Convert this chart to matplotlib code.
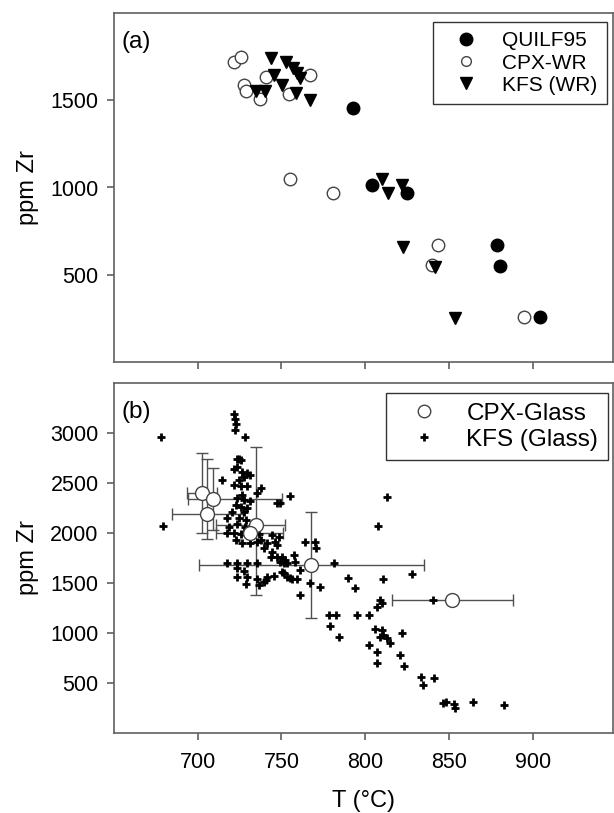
import matplotlib
matplotlib.use("Agg")
import matplotlib.pyplot as plt
from matplotlib.lines import Line2D

plt.rcParams['font.family'] = ['Liberation Sans', 'DejaVu Sans']

# ---------------- Panel (a) data ----------------
quilf_T = [793.0, 804.0, 824.8, 878.8, 880.8, 904.2]
quilf_Zr = [1454, 1014, 967, 670, 552, 260]

cpxwr_T = [721.6, 726.0, 727.6, 728.6, 736.9, 740.7, 754.8, 767.3, 754.9, 780.8, 843.6, 839.7, 894.6]
cpxwr_Zr = [1721, 1749, 1587, 1555, 1506, 1635, 1536, 1645, 1049, 970, 670, 556, 260]

kfswr_T = [743.5, 752.8, 757.0, 759.3, 760.9, 745.4, 750.4, 735.1, 739.9, 758.5, 766.8,
           809.9, 813.9, 821.8, 822.8, 841.7, 853.6]
kfswr_Zr = [1740, 1721, 1683, 1658, 1626, 1645, 1587, 1555, 1555, 1540, 1501,
            1047, 967, 1014, 661, 543, 250]

# ---------------- Panel (b) data ----------------
cpxgl_T = [702.8, 709.1, 705.8, 734.9, 731.0, 767.9, 852.1]
cpxgl_Zr = [2397, 2337, 2187, 2080, 2000, 1680, 1330]
cpxgl_Terr_lo = [9, 15, 21, 24, 20, 67, 36]
cpxgl_Terr_hi = [9, 41, 21, 17, 20, 67, 36]
cpxgl_Zrerr_lo = [400, 310, 250, 700, 0, 528, 0]
cpxgl_Zrerr_hi = [406, 310, 550, 780, 0, 528, 0]

kfsgl_T = [678.0, 721.6, 722.0, 722.6, 722.2, 728.0, 679.4, 723.2, 724.6, 726.0,
           723.6, 721.9, 726.6, 729.2, 731.5, 727.6, 724.6, 714.7, 721.6, 725.6,
           729.6, 737.5, 735.5, 726.6, 723.6, 727.6, 731.5, 747.4, 749.4, 755.4,
           722.6, 725.6, 729.6, 720.6, 727.6, 717.7, 724.6, 728.6, 723.2, 728.0,
           718.7, 717.7, 721.6, 725.6, 727.6, 731.5, 736.5, 744.4, 722.6, 726.6,
           731.5, 735.5, 741.5, 747.4, 748.4, 739.5, 744.4, 747.4, 750.4, 752.4,
           753.4, 749.4, 757.3, 717.7, 723.6, 729.2, 735.5, 723.6, 727.6, 723.2,
           729.6, 735.5, 740.5, 745.4, 750.4, 753.4, 756.4, 759.3, 764.3, 770.2,
           770.8, 767.3, 773.2, 781.1, 789.5, 794.0, 728.6, 736.5, 761.3, 812.9,
           807.9, 746.4, 737.5, 743.5, 751.4, 758.3, 751.4, 755.4, 741.5, 739.5,
           761.3, 828.2, 840.3, 808.9, 809.9, 807.0, 778.2, 782.7, 795.0, 802.0,
           779.2, 784.1, 806.0, 809.9, 810.9, 812.9, 814.9, 808.9, 821.8, 802.0,
           807.0, 807.0, 820.8, 823.2, 833.1, 834.3, 841.3, 846.2, 848.2, 853.0,
           853.6, 864.1, 882.7, 810.9]
kfsgl_Zr = [2957, 3187, 3137, 3087, 3030, 2957, 2073, 2740, 2740, 2730,
            2663, 2637, 2613, 2597, 2580, 2563, 2530, 2530, 2480, 2470,
            2470, 2447, 2397, 2380, 2347, 2330, 2323, 2297, 2297, 2370,
            2280, 2263, 2253, 2213, 2213, 2147, 2147, 2130, 2090, 2063,
            2063, 1997, 1997, 1990, 2013, 1963, 1990, 1980, 1930, 1897,
            1903, 1913, 1897, 1880, 1963, 1847, 1813, 1763, 1763, 1730,
            1703, 1713, 1780, 1703, 1703, 1703, 1703, 1647, 1623, 1563,
            1557, 1537, 1530, 1570, 1613, 1557, 1537, 1537, 1913, 1913,
            1847, 1497, 1457, 1703, 1547, 1447, 1490, 1480, 1380, 2363,
            2070, 1913, 1930, 1763, 1697, 1713, 1597, 1547, 1563, 1513,
            1630, 1590, 1330, 1330, 1297, 1257, 1180, 1180, 1180, 1180,
            1070, 963, 1037, 1030, 980, 947, 897, 963, 1003, 880,
            813, 697, 780, 670, 557, 480, 547, 303, 313, 290,
            247, 310, 277, 1537]

xticks = [700, 750, 800, 850, 900]
yticks_a = [500, 1000, 1500]
yticks_b = [500, 1000, 1500, 2000, 2500, 3000]

# ---------------- Figure ----------------
W, H = 614, 813
fig = plt.figure(figsize=(W / 100, H / 100), dpi=100)
axA = fig.add_axes([114 / W, 1 - 362 / H, 499 / W, 349 / H])
axB = fig.add_axes([114 / W, 1 - 733 / H, 499 / W, 350 / H])

spine_c = '#606060'
for ax in (axA, axB):
    for s in ax.spines.values():
        s.set_color(spine_c)
        s.set_linewidth(1.2)
    ax.tick_params(direction='out', length=5, width=1.2, color=spine_c,
                   labelsize=15.5, pad=6)
    ax.tick_params(axis='x', pad=9)
    ax.set_xlim(650, 948)
    ax.set_xticks(xticks)

axA.set_ylim(0, 2000)
axA.set_yticks(yticks_a)
axA.tick_params(axis='x', labelbottom=False)
axB.set_ylim(0, 3500)
axB.set_yticks(yticks_b)

# Panel (a)
axA.plot(quilf_T, quilf_Zr, 'o', ms=9, mfc='black', mec='black', label='QUILF95', zorder=3)
axA.plot(cpxwr_T, cpxwr_Zr, 'o', ms=9, mfc='white', mec='#444444', mew=1.0, label='CPX-WR', zorder=3)
axA.plot(kfswr_T, kfswr_Zr, 'v', ms=9, mfc='black', mec='black', label='KFS (WR)', zorder=4)

hA = [Line2D([], [], ls='none', marker='o', ms=9, mfc='black', mec='black'),
      Line2D([], [], ls='none', marker='o', ms=7, mfc='white', mec='#444444', mew=1.0),
      Line2D([], [], ls='none', marker='v', ms=8, mfc='black', mec='black')]
legA = axA.legend(hA, ['QUILF95', 'CPX-WR', 'KFS (WR)'], loc='upper right',
                  bbox_to_anchor=(0.988, 0.974), fontsize=15, frameon=True, fancybox=False,
                  edgecolor='#333333', framealpha=1, borderpad=0.45, handlelength=2.3,
                  handletextpad=0.6, labelspacing=0.15, borderaxespad=0)
legA.get_frame().set_linewidth(1.0)
axA.text(0.016, 0.917, '(a)', transform=axA.transAxes, fontsize=17.5, va='center', ha='left')
axA.set_ylabel('ppm Zr', fontsize=17, labelpad=8)

# Panel (b)
axB.errorbar(cpxgl_T, cpxgl_Zr, xerr=[cpxgl_Terr_lo, cpxgl_Terr_hi],
             yerr=[cpxgl_Zrerr_lo, cpxgl_Zrerr_hi], fmt='none',
             ecolor='#505050', elinewidth=1.0, capsize=4, capthick=1.0, zorder=2)
axB.plot(kfsgl_T, kfsgl_Zr, '+', ms=6, mew=2.0, color='black', zorder=3)
axB.plot(cpxgl_T, cpxgl_Zr, 'o', ms=10, mfc='white', mec='#444444', mew=1.0, zorder=4)

hB = [Line2D([], [], ls='none', marker='o', ms=9, mfc='white', mec='#444444', mew=1.0),
      Line2D([], [], ls='none', marker='+', ms=6, mew=2.0, color='black')]
legB = axB.legend(hB, ['CPX-Glass', 'KFS (Glass)'], loc='upper right',
                  bbox_to_anchor=(0.990, 0.971), fontsize=17.5, frameon=True, fancybox=False,
                  edgecolor='#333333', framealpha=1, borderpad=0.4, handlelength=2.3,
                  handletextpad=0.6, labelspacing=0.15, borderaxespad=0)
legB.get_frame().set_linewidth(1.0)
axB.text(0.016, 0.917, '(b)', transform=axB.transAxes, fontsize=17.5, va='center', ha='left')
axB.set_ylabel('ppm Zr', fontsize=17, labelpad=8)
axB.set_xlabel('T (°C)', fontsize=17, labelpad=12)

fig.savefig('out.png', dpi=100)
